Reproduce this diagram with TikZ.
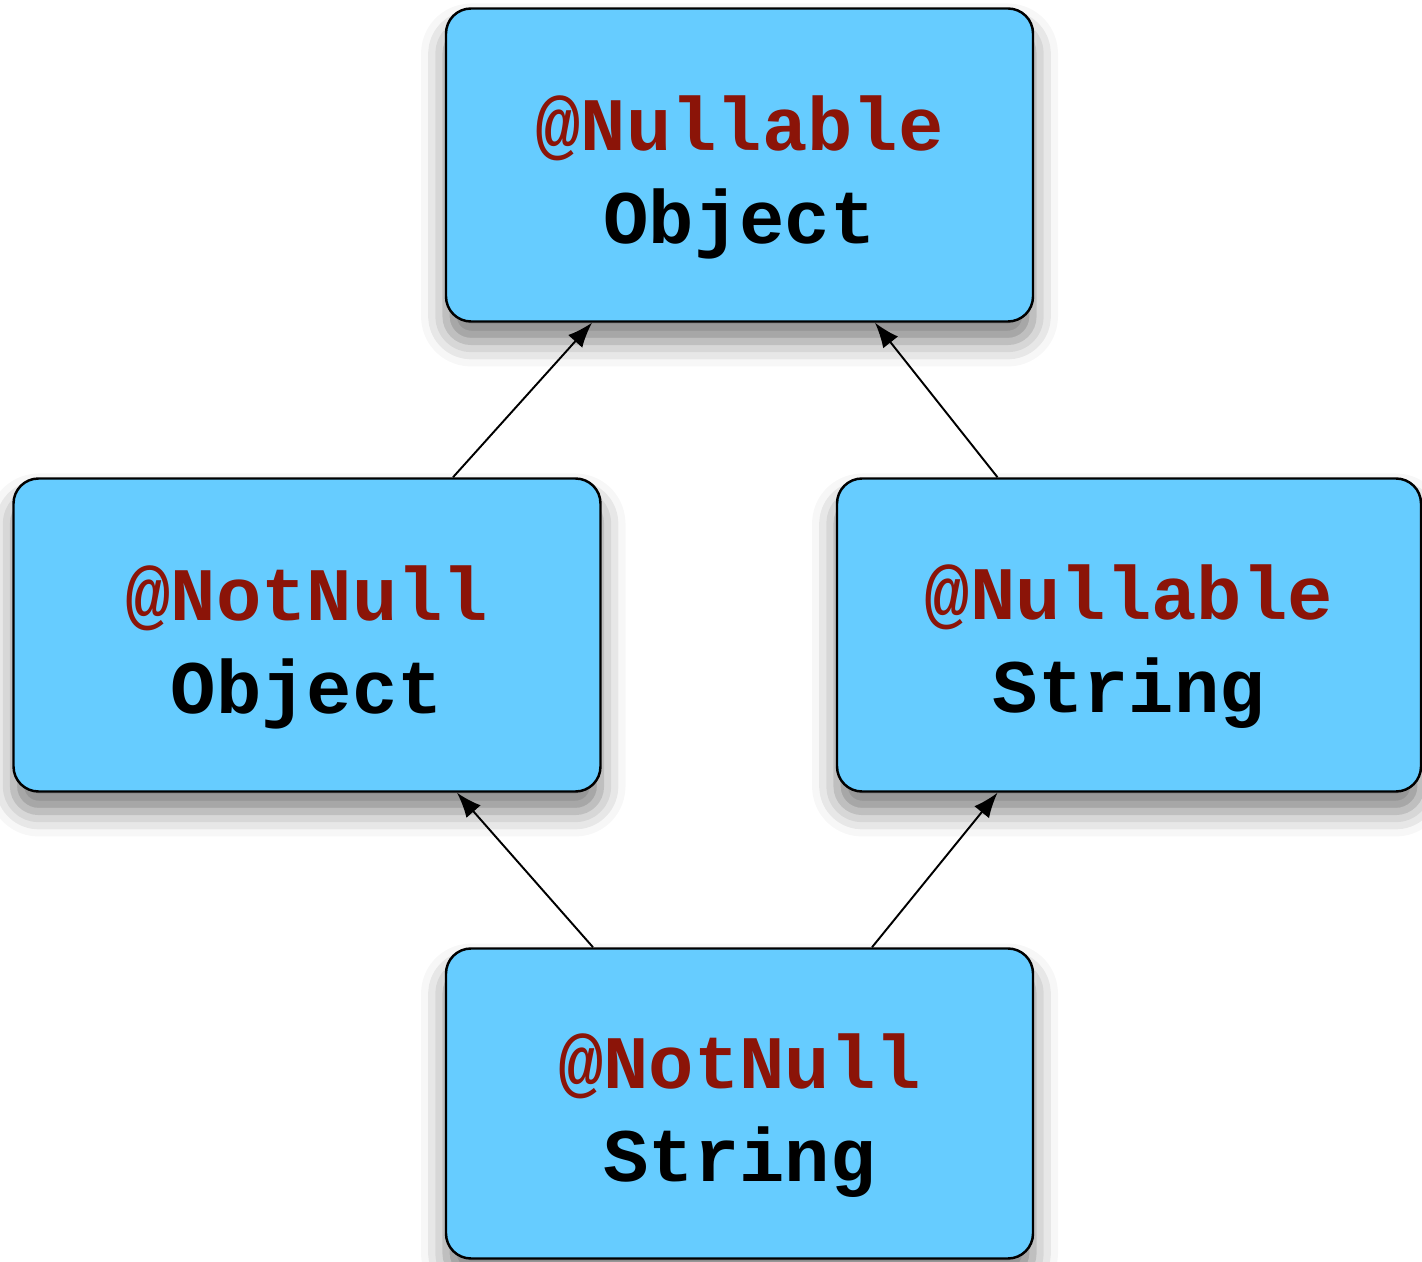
\documentclass[tikz,border=0pt]{standalone}
\usepackage{fontspec}
\setmonofont{Liberation Mono}
\usetikzlibrary{arrows.meta,shadows.blur}
\definecolor{boxblue}{HTML}{66CCFF}
\definecolor{annored}{HTML}{8B1408}

\begin{document}
\begin{tikzpicture}[
    typebox/.style={draw=black, line width=1.4pt, fill=boxblue, rounded corners=0.5cm,
                minimum width=11.74cm, minimum height=6.26cm, align=center, text height=3.44cm,
                font=\fontsize{43}{53}\selectfont\ttfamily\bfseries,
                blur shadow={shadow xshift=0cm, shadow yshift=-0.4cm,
                             shadow blur radius=0.5cm, shadow opacity=50}},
    arr/.style={-{Latex[length=0.5cm, width=0.38cm]}, line width=1.1pt}
  ]
    \useasboundingbox (0,0) rectangle (28.44,25.22);

    \node[typebox] (nullobj)    at (14.79,21.92) {\textcolor{annored}{@Nullable}\\Object};
    \node[typebox] (notnullobj) at (6.14,12.52)  {\textcolor{annored}{@NotNull}\\Object};
    \node[typebox, minimum width=11.68cm] (nullstr) at (22.58,12.52) {\textcolor{annored}{@Nullable}\\String};
    \node[typebox, minimum height=6.2cm] (notnullstr) at (14.79,3.15) {\textcolor{annored}{@NotNull}\\String};

    \draw[arr] ([xshift=2.92cm]notnullobj.north) -- ([xshift=-2.95cm]nullobj.south);
    \draw[arr] ([xshift=-2.63cm]nullstr.north)   -- ([xshift=2.71cm]nullobj.south);
    \draw[arr] ([xshift=-2.93cm]notnullstr.north) -- ([xshift=3.0cm]notnullobj.south);
    \draw[arr] ([xshift=2.65cm]notnullstr.north)  -- ([xshift=-2.63cm]nullstr.south);
  \end{tikzpicture}
\end{document}
